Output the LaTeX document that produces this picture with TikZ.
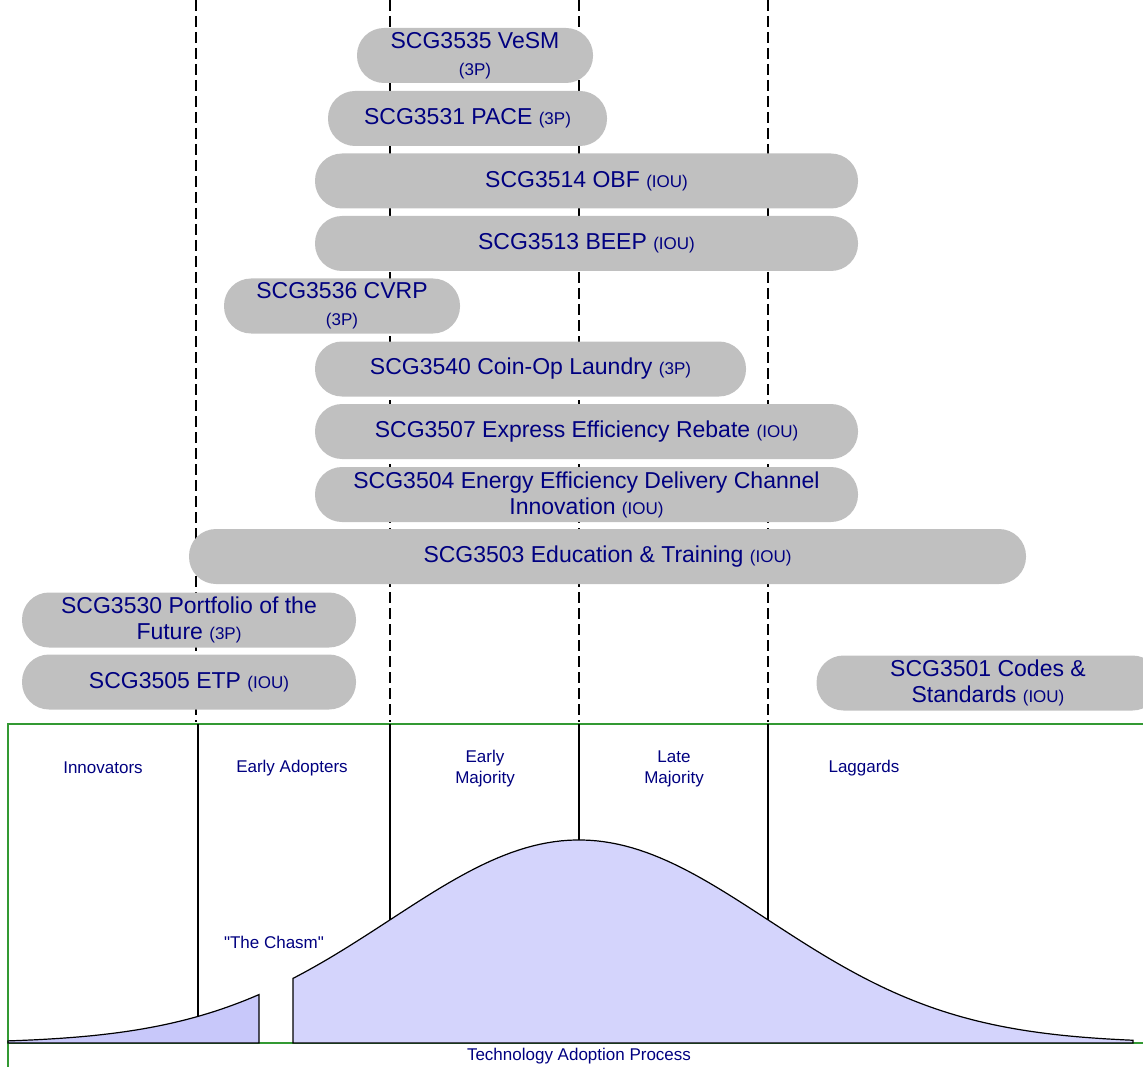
\documentclass[tikz,border=0pt]{standalone}
\usepackage{fontspec}
\setmainfont{Liberation Sans}
\newfontfamily\rawsans{Liberation Sans}

\definecolor{labelblue}{RGB}{0,0,128}
\definecolor{pillgray}{RGB}{192,192,192}
\definecolor{bellfill}{RGB}{212,212,252}
\definecolor{chasmfill}{RGB}{200,200,250}
\definecolor{framegreen}{RGB}{51,153,51}

\newcommand{\who}[1]{{\fontsize{17}{20}\selectfont #1}}

\tikzset{
  pill/.style={fill=pillgray, rounded corners=27pt, minimum height=55pt,
    inner sep=0pt, align=center, text=labelblue,
    font={\fontsize{23}{26}\selectfont}},
  phase/.style={text=labelblue, align=center, font={\fontsize{17}{21}\selectfont}},
  divider/.style={black, line width=2pt, dash pattern=on 11pt off 5pt},
  border/.style={draw=black, line width=1.2pt},
}

\begin{document}
\begin{tikzpicture}[x=1pt, y=-1pt]

\useasboundingbox (0,0) rectangle (1143,1067);

% dashed phase boundaries
\foreach \xx in {196, 390, 579, 768}
  \draw[divider] (\xx,0) -- (\xx,722);

% frame
\draw[framegreen, line width=1.5pt] (8,1080) -- (8,724) -- (1160,724);
\draw[framegreen, line width=1.5pt] (8,1043) -- (1160,1043);

% bell curve, split by the chasm
\filldraw[border, fill=chasmfill] (8,1043)
  -- plot[domain=8:259, samples=40] (\x,{1043-203*exp(-0.5*((\x-579)/189)^2)})
  -- (259,1043) -- cycle;
\filldraw[border, fill=bellfill] (293,1043)
  -- plot[domain=293:1133, samples=120] (\x,{1043-203*exp(-0.5*((\x-579)/189)^2)})
  -- (1133,1043) -- cycle;

% solid phase lines down to the curve
\draw[border] (198,724) -- (198,1016);
\draw[border] (390,724) -- (390,920);
\draw[border] (579,724) -- (579,840);
\draw[border] (768,724) -- (768,920);

% phases
\node[phase] (innov) at (103,768) {Innovators};
\node[phase] (early) at (292,768) {Early Adopters};
\node[phase] (earlymaj) at (485,769) {Early\\Majority};
\node[phase] (latemaj) at (674,769) {Late\\Majority};
\node[phase] (lagg) at (864,768) {Laggards};
\node[phase] (chasm) at (274,942) {\rawsans "The Chasm"};
\node[phase] (process) at (579,1056) {Technology Adoption Process};

% programs
\node[pill, minimum width=236pt] (vesm) at (475,55.5) {SCG3535 VeSM\\[1pt]\who{(3P)}};
\node[pill, minimum width=279pt] (pace) at (467.5,118.5) {SCG3531 PACE \who{(3P)}};
\node[pill, minimum width=543pt] (obf) at (586.5,181) {SCG3514 OBF \who{(IOU)}};
\node[pill, minimum width=543pt] (beep) at (586.5,243.5) {SCG3513 BEEP \who{(IOU)}};
\node[pill, minimum width=236pt] (cvrp) at (342,306) {SCG3536 CVRP\\[1pt]\who{(3P)}};
\node[pill, minimum width=431pt] (coinop) at (530.5,369) {SCG3540 Coin-Op Laundry \who{(3P)}};
\node[pill, minimum width=543pt] (express) at (586.5,431.5) {SCG3507 Express Efficiency Rebate \who{(IOU)}};
\node[pill, minimum width=543pt] (eedci) at (586.5,494.5)
  {SCG3504 Energy Efficiency Delivery Channel\\Innovation \who{(IOU)}};
\node[pill, minimum width=837pt] (edu) at (607.5,556.5) {SCG3503 Education \& Training \who{(IOU)}};
\node[pill, minimum width=334pt] (potf) at (189,620) {SCG3530 Portfolio of the\\Future \who{(3P)}};
\node[pill, minimum width=334pt] (etp) at (189,682) {SCG3505 ETP \who{(IOU)}};
\node[pill, minimum width=343pt] (codes) at (988,683) {SCG3501 Codes \&\\Standards \who{(IOU)}};

\end{tikzpicture}
\end{document}
